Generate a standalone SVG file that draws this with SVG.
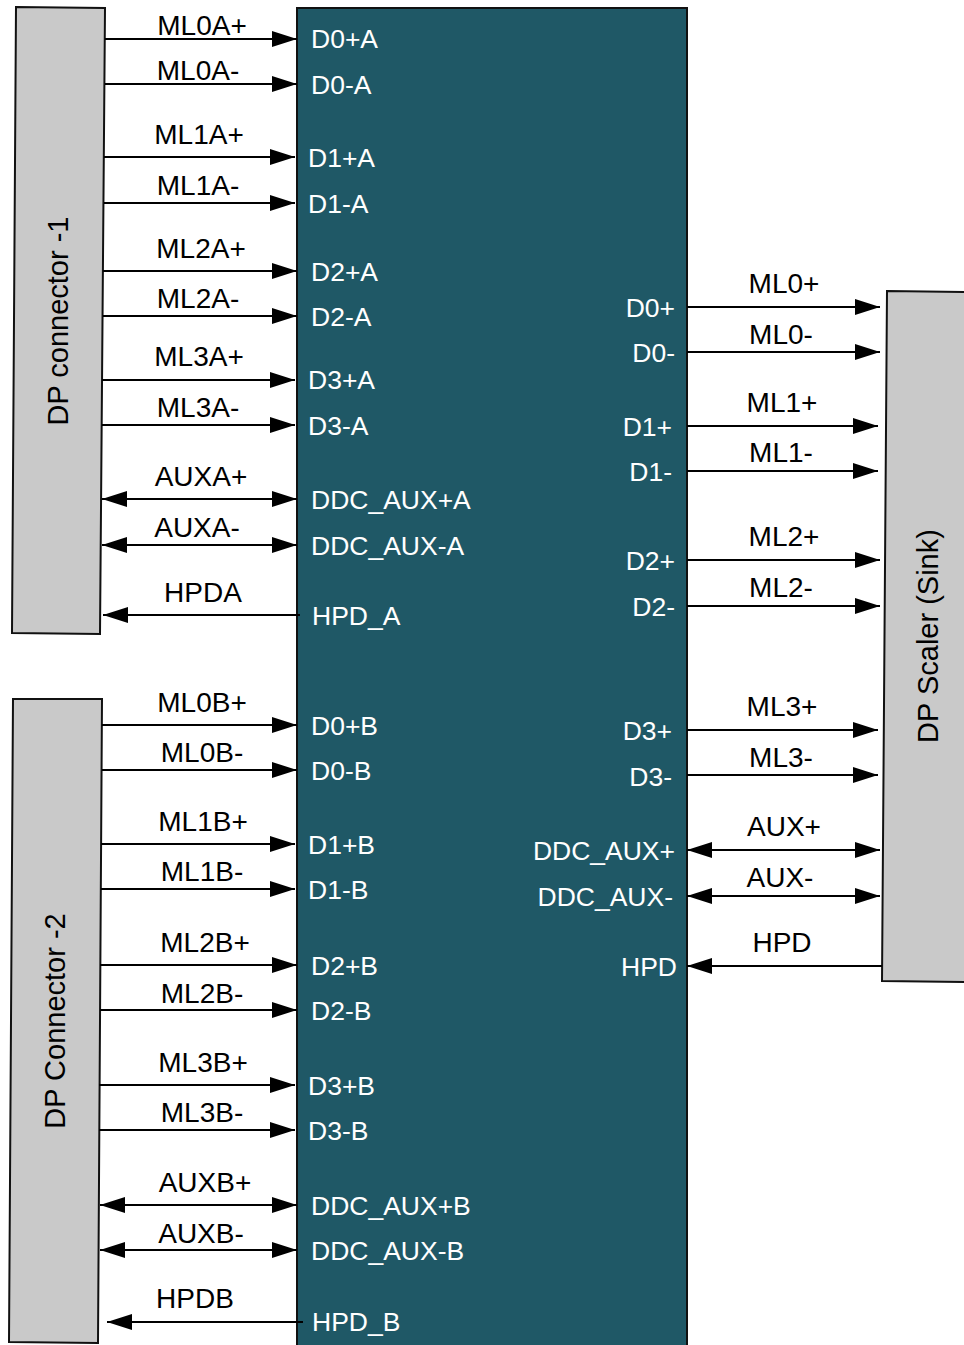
<svg xmlns="http://www.w3.org/2000/svg" width="964" height="1345" viewBox="0 0 964 1345">
<style>
.conn{fill:#c9c9c9;stroke:#111;stroke-width:2}
.chip{fill:#1f5866;stroke:#111;stroke-width:2}
.t{font-family:"Liberation Sans",Arial,sans-serif;font-size:28px;fill:#000}
.v{font-family:"Liberation Sans",Arial,sans-serif;font-size:29px;fill:#000}
.w{font-family:"Liberation Sans",Arial,sans-serif;font-size:26.5px;fill:#fff}
.c{text-anchor:middle}
.e{text-anchor:end}
.l{stroke:#000;stroke-width:2;fill:none}
.r{marker-end:url(#ah)}
.b{marker-start:url(#ah);marker-end:url(#ah)}
</style>
<defs>
<marker id="ah" markerUnits="userSpaceOnUse" markerWidth="26" markerHeight="18" refX="25" refY="8" orient="auto-start-reverse" viewBox="0 0 26 16">
<path d="M0,0 L25,8 L0,16 z" fill="#000"/>
</marker>
</defs>

<g id="chip">
<rect class="chip" x="297" y="8" width="390" height="1345"/>
<text class="w" x="311" y="48">D0+A</text>
<text class="w" x="311" y="94">D0-A</text>
<text class="w" x="308" y="167">D1+A</text>
<text class="w" x="308" y="213">D1-A</text>
<text class="w" x="311" y="281">D2+A</text>
<text class="w" x="311" y="326">D2-A</text>
<text class="w" x="308" y="389">D3+A</text>
<text class="w" x="308" y="435">D3-A</text>
<text class="w" x="311" y="509">DDC_AUX+A</text>
<text class="w" x="311" y="555">DDC_AUX-A</text>
<text class="w" x="312" y="625">HPD_A</text>
<text class="w" x="311" y="735">D0+B</text>
<text class="w" x="311" y="780">D0-B</text>
<text class="w" x="308" y="854">D1+B</text>
<text class="w" x="308" y="899">D1-B</text>
<text class="w" x="311" y="975">D2+B</text>
<text class="w" x="311" y="1020">D2-B</text>
<text class="w" x="308" y="1095">D3+B</text>
<text class="w" x="308" y="1140">D3-B</text>
<text class="w" x="311" y="1215">DDC_AUX+B</text>
<text class="w" x="311" y="1260">DDC_AUX-B</text>
<text class="w" x="312" y="1331">HPD_B</text>
<text class="w e" x="675" y="317">D0+</text>
<text class="w e" x="675" y="362">D0-</text>
<text class="w e" x="672" y="436">D1+</text>
<text class="w e" x="672" y="481">D1-</text>
<text class="w e" x="675" y="570">D2+</text>
<text class="w e" x="675" y="616">D2-</text>
<text class="w e" x="672" y="740">D3+</text>
<text class="w e" x="672" y="786">D3-</text>
<text class="w e" x="675" y="860">DDC_AUX+</text>
<text class="w e" x="673" y="906">DDC_AUX-</text>
<text class="w e" x="677" y="976">HPD</text>
</g>

<g id="dp-connector-1">
<polygon class="conn" points="16,7 105,8 100,634 12,633"/>
<text class="v c" transform="translate(68,321) rotate(-90)">DP connector -1</text>
</g>

<g id="dp-connector-2">
<polygon class="conn" points="13,699 102,699 98,1343 9,1342"/>
<text class="v c" transform="translate(65,1021) rotate(-90)">DP Connector -2</text>
</g>

<g id="dp-scaler">
<polygon class="conn" points="887,291 968,292 968,982 882,981"/>
<text class="v c" transform="translate(938,636) rotate(-90)">DP Scaler (Sink)</text>
</g>

<g id="connectors">
<line class="l r" x1="105" y1="39" x2="297" y2="39"/>
<line class="l r" x1="105" y1="84" x2="297" y2="84"/>
<line class="l r" x1="104" y1="157" x2="295" y2="157"/>
<line class="l r" x1="104" y1="203" x2="295" y2="203"/>
<line class="l r" x1="103" y1="271" x2="297" y2="271"/>
<line class="l r" x1="103" y1="316" x2="297" y2="316"/>
<line class="l r" x1="102" y1="380" x2="295" y2="380"/>
<line class="l r" x1="102" y1="425" x2="295" y2="425"/>
<line class="l b" x1="102" y1="499" x2="297" y2="499"/>
<line class="l b" x1="102" y1="545" x2="297" y2="545"/>
<line class="l r" x1="300" y1="615" x2="103" y2="615"/>

<line class="l r" x1="102" y1="725" x2="297" y2="725"/>
<line class="l r" x1="102" y1="770" x2="297" y2="770"/>
<line class="l r" x1="101" y1="844" x2="295" y2="844"/>
<line class="l r" x1="101" y1="889" x2="295" y2="889"/>
<line class="l r" x1="100" y1="965" x2="297" y2="965"/>
<line class="l r" x1="100" y1="1010" x2="297" y2="1010"/>
<line class="l r" x1="99" y1="1085" x2="295" y2="1085"/>
<line class="l r" x1="99" y1="1130" x2="295" y2="1130"/>
<line class="l b" x1="100" y1="1205" x2="297" y2="1205"/>
<line class="l b" x1="100" y1="1250" x2="297" y2="1250"/>
<line class="l r" x1="303" y1="1322" x2="107" y2="1322"/>

<line class="l r" x1="687" y1="307" x2="880" y2="307"/>
<line class="l r" x1="687" y1="352" x2="880" y2="352"/>
<line class="l r" x1="687" y1="426" x2="878" y2="426"/>
<line class="l r" x1="687" y1="471" x2="878" y2="471"/>
<line class="l r" x1="687" y1="560" x2="880" y2="560"/>
<line class="l r" x1="687" y1="606" x2="880" y2="606"/>
<line class="l r" x1="687" y1="730" x2="878" y2="730"/>
<line class="l r" x1="687" y1="775" x2="878" y2="775"/>
<line class="l b" x1="687" y1="850" x2="880" y2="850"/>
<line class="l b" x1="687" y1="896" x2="880" y2="896"/>
<line class="l r" x1="882" y1="966" x2="687" y2="966"/>

<text class="t c" x="202" y="35">ML0A+</text>
<text class="t c" x="198" y="80">ML0A-</text>
<text class="t c" x="199" y="144">ML1A+</text>
<text class="t c" x="198" y="195">ML1A-</text>
<text class="t c" x="201" y="258">ML2A+</text>
<text class="t c" x="198" y="308">ML2A-</text>
<text class="t c" x="199" y="366">ML3A+</text>
<text class="t c" x="198" y="417">ML3A-</text>
<text class="t c" x="201" y="486">AUXA+</text>
<text class="t c" x="197" y="537">AUXA-</text>
<text class="t c" x="203" y="602">HPDA</text>

<text class="t c" x="202" y="712">ML0B+</text>
<text class="t c" x="202" y="762">ML0B-</text>
<text class="t c" x="203" y="831">ML1B+</text>
<text class="t c" x="202" y="881">ML1B-</text>
<text class="t c" x="205" y="952">ML2B+</text>
<text class="t c" x="202" y="1003">ML2B-</text>
<text class="t c" x="203" y="1072">ML3B+</text>
<text class="t c" x="202" y="1122">ML3B-</text>
<text class="t c" x="205" y="1192">AUXB+</text>
<text class="t c" x="201" y="1243">AUXB-</text>
<text class="t c" x="195" y="1308">HPDB</text>

<text class="t c" x="784" y="293">ML0+</text>
<text class="t c" x="781" y="344">ML0-</text>
<text class="t c" x="782" y="412">ML1+</text>
<text class="t c" x="781" y="462">ML1-</text>
<text class="t c" x="784" y="546">ML2+</text>
<text class="t c" x="781" y="597">ML2-</text>
<text class="t c" x="782" y="716">ML3+</text>
<text class="t c" x="781" y="767">ML3-</text>
<text class="t c" x="784" y="836">AUX+</text>
<text class="t c" x="780" y="887">AUX-</text>
<text class="t c" x="782" y="952">HPD</text>
</g>
</svg>
